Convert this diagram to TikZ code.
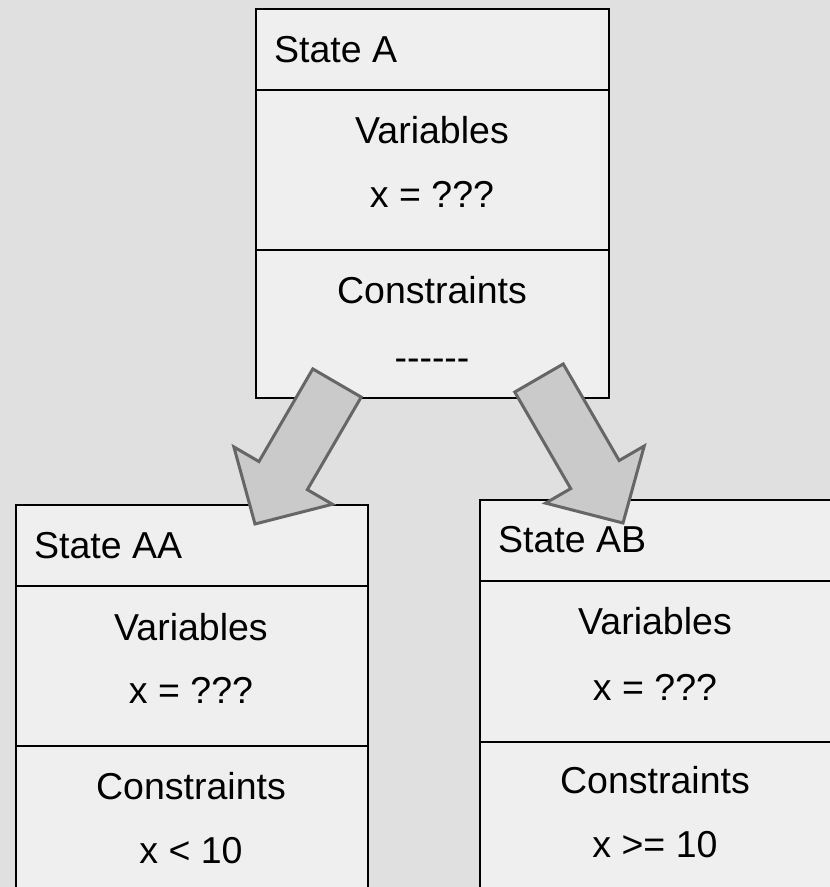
\documentclass[tikz,border=0pt]{standalone}
\usepackage{fontspec}
\setmainfont{Liberation Sans}
\usetikzlibrary{calc}
\definecolor{paper}{RGB}{224,224,224}
\definecolor{boxfill}{RGB}{239,239,239}
\definecolor{arrowfill}{RGB}{202,202,202}
\definecolor{arrowline}{RGB}{102,102,102}
\newcommand{\fatarrow}[2]{%
\coordinate (neck) at ($(#2)!56pt!(#1)$);
\draw[bigarrow] ($(#1)!28pt!90:(#2)$) -- ($(neck)!28pt!90:(#2)$) -- ($(neck)!57pt!90:(#2)$) -- (#2) -- ($(neck)!57pt!-90:(#2)$) -- ($(neck)!28pt!-90:(#2)$) -- ($(#1)!28pt!-90:(#2)$) -- cycle;}
\begin{document}
\begin{tikzpicture}[x=1pt, y=-1pt, statebox/.style={draw, line width=2pt, fill=boxfill, inner sep=0pt, anchor=north west}, divider/.style={line width=2pt}, txt/.style={inner sep=0pt, anchor=base, font=\fontsize{37.5}{44}\selectfont}, title/.style={txt, anchor=base west}, bigarrow/.style={fill=arrowfill, draw=arrowline, line width=3pt, line join=miter}]
\useasboundingbox (0,0) rectangle (830,887);
\clip (0,0) rectangle (830,887);
\fill[paper] (0,0) rectangle (830,887);
% State A
\node[statebox, minimum width=353pt, minimum height=389pt](A) at (255,8){};
\draw[divider] (A.west |- 0,90) -- (A.east |- 0,90);
\draw[divider] (A.west |- 0,250) -- (A.east |- 0,250);
\node[title](Aname) at (274,62){State A};
\node[txt](Avar) at (432,143){Variables};
\node[txt](Aval) at (432,207){x = ???};
\node[txt](Acon) at (432,303){Constraints};
\node[txt](Arule) at (432,370){-{}-{}-{}-{}-{}-};
% State AA
\node[statebox, minimum width=352pt, minimum height=420pt](AA) at (15,504){};
\draw[divider] (AA.west |- 0,586) -- (AA.east |- 0,586);
\draw[divider] (AA.west |- 0,746) -- (AA.east |- 0,746);
\node[title](AAname) at (34,558){State AA};
\node[txt](AAvar) at (191,640){Variables};
\node[txt](AAval) at (191,703){x = ???};
\node[txt](AAcon) at (191,799){Constraints};
\node[txt](AArule) at (191,863){x < 10};
% State AB
\node[statebox, minimum width=353pt, minimum height=420pt](AB) at (479,499){};
\draw[divider] (AB.west |- 0,581) -- (AB.east |- 0,581);
\draw[divider] (AB.west |- 0,742) -- (AB.east |- 0,742);
\node[title](ABname) at (498,552){State AB};
\node[txt](ABvar) at (655,634){Variables};
\node[txt](ABval) at (655,700){x = ???};
\node[txt](ABcon) at (655,793){Constraints};
\node[txt](ABrule) at (655,857){x >= 10};
% branches
\coordinate (A-left) at (337,383);
\coordinate (AA-in) at (255,524);
\coordinate (A-right) at (539,378);
\coordinate (AB-in) at (623,523);
\fatarrow{A-left}{AA-in}
\fatarrow{A-right}{AB-in}
\end{tikzpicture}
\end{document}
